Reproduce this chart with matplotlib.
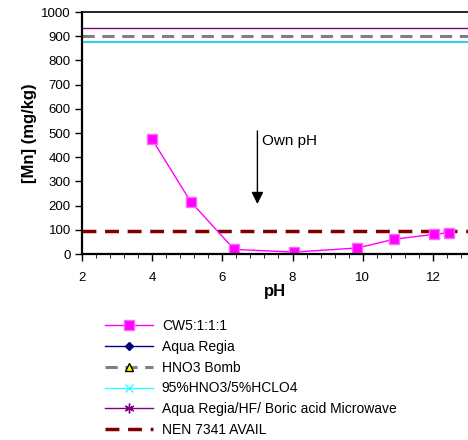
import matplotlib.pyplot as plt
from matplotlib.lines import Line2D
from matplotlib.ticker import MultipleLocator

plt.rcParams['font.family'] = ['Liberation Sans', 'DejaVu Sans']

# CW5:1:1:1 leaching data
ph = [4.0, 5.1, 6.34, 8.05, 9.85, 10.89, 12.02, 12.45]
mn = [474, 216, 19, 8, 25, 61, 81, 88]

# reference levels (mg/kg)
aqua_regia = []          # not in view
hno3_bomb = 900
hno3_hclo4 = 877
aqua_hf_boric = 935
nen_7341 = 95

fig = plt.figure(figsize=(4.68, 4.4), dpi=100)
ax = fig.add_axes([0.175, 0.4227, 0.825, 0.55])

ax.axhline(aqua_hf_boric, color='#800080', lw=1.0)
ax.axhline(hno3_bomb, color='#808080', lw=2.2, ls=(0, (4, 2.5)))
ax.axhline(hno3_hclo4, color='#33CCEE', lw=1.5)
ax.axhline(nen_7341, color='#800000', lw=2.5, ls=(0, (4, 2.5)))
ax.plot(ph, mn, color='#FF00FF', lw=1, marker='s', ms=7,
        mfc='#FF00FF', mec='#FF66FF')

# own pH arrow
ax.annotate('', xy=(7, 195), xytext=(7, 520),
            arrowprops=dict(arrowstyle='-|>', color='black', lw=1,
                            mutation_scale=18))
ax.text(7.12, 465, 'Own pH', fontsize=11, va='center')

ax.set_xlim(2, 13)
ax.set_ylim(0, 1000)
ax.xaxis.set_major_locator(MultipleLocator(2))
ax.xaxis.set_minor_locator(MultipleLocator(0.4))
ax.yaxis.set_major_locator(MultipleLocator(100))
ax.tick_params(axis='both', direction='out', labelsize=9.5, width=1, length=5)
ax.tick_params(axis='x', which='minor', direction='out', length=3)
ax.tick_params(axis='x', pad=8)
ax.tick_params(axis='y', pad=3)
ax.spines['right'].set_visible(False)
ax.spines['left'].set_linewidth(1.6)
ax.spines['bottom'].set_linewidth(1.6)
ax.spines['top'].set_linewidth(1.2)
ax.set_xlabel('pH', fontsize=12, fontweight='bold', labelpad=0)
ax.set_ylabel('[Mn] (mg/kg)', fontsize=12, fontweight='bold', labelpad=3)

handles = [
    Line2D([], [], color='#FF00FF', lw=1, marker='s', ms=7, mfc='#FF00FF', mec='#FF66FF'),
    Line2D(aqua_regia, aqua_regia, color='#000080', lw=1, marker='D', ms=4),
    Line2D([], [], color='#808080', lw=2.2, ls=(0, (4, 2.5)), marker='^', ms=6,
           mfc='#FFFF00', mec='black'),
    Line2D([], [], color='#33FFFF', lw=1, marker='x', ms=6),
    Line2D([], [], color='#800080', lw=1, marker=(6, 2, 0), ms=7),
    Line2D([], [], color='#800000', lw=2.5, ls=(0, (4, 2.5))),
]
labels = ['CW5:1:1:1', 'Aqua Regia', 'HNO3 Bomb', '95%HNO3/5%HCLO4',
          'Aqua Regia/HF/ Boric acid Microwave', 'NEN 7341 AVAIL']
fig.legend(handles, labels, loc='upper left', bbox_to_anchor=(0.224, 0.275),
           frameon=False, fontsize=10, handlelength=3.45, handletextpad=0.65,
           labelspacing=0.49, borderpad=0, borderaxespad=0)

fig.savefig('out.png', dpi=100)
